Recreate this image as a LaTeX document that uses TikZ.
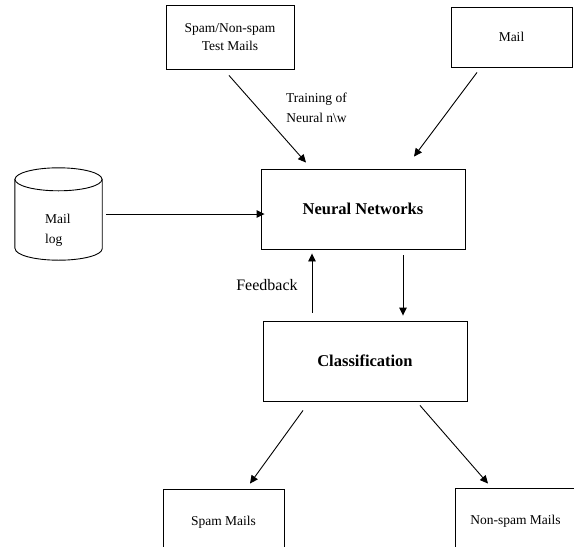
\documentclass[tikz,border=0pt]{standalone}
\usepackage{fontspec}
\setmainfont{Liberation Serif}
\usetikzlibrary{arrows.meta,calc}

\tikzset{
  box/.style={draw, line width=0.9pt, rectangle, inner sep=0pt, align=center,
              font=\fontsize{13.5}{18}\selectfont},
  bigbox/.style={box, font=\fontsize{16.5}{20}\selectfont\bfseries},
  arr/.style={line width=0.9pt, -{Triangle[length=8pt,width=7.5pt]}},
  lbl/.style={inner sep=0pt, align=center, font=\fontsize{13.5}{20}\selectfont}
}

\begin{document}
\begin{tikzpicture}[x=1pt, y=-1pt]
  \useasboundingbox (0,0) rectangle (574,547);
  \clip (0,0) rectangle (574,547);
  \fill[white] (0,0) rectangle (574,547);

  % input boxes
  \node[box, minimum width=128pt, minimum height=64pt] (tm) at (230,37) {Spam/Non-spam\\Test Mails};
  \node[box, minimum width=121pt, minimum height=60pt] (mail) at (511.5,37) {Mail};

  % processing boxes
  \node[bigbox, minimum width=204pt, minimum height=80pt] (nn) at (363,209) {Neural Networks};
  \node[bigbox, minimum width=204pt, minimum height=80pt] (cls) at (365,361) {Classification};

  % output boxes (run off the lower edge)
  \node[box, minimum width=121pt, minimum height=66pt] (spam) at (223.5,522) {Spam Mails};
  \node[box, minimum width=121pt, minimum height=66pt] (ns) at (515.5,521) {Non-spam Mails};

  % mail log store drawn as a cylinder
  \node[minimum width=87pt, minimum height=92pt, inner sep=0pt] (log) at (58.5,214) {};
  \draw[line width=0.9pt, fill=white]
    ($(log.south west)+(0,-11.5)$) -- ($(log.north west)+(0,11.5)$)
    -- ($(log.north east)+(0,11.5)$) -- ($(log.south east)+(0,-11.5)$)
    arc[start angle=360, end angle=180, x radius=43.5pt, y radius=11.5pt];
  \draw[line width=0.9pt, fill=white] ($(log.north)+(0,11.5)$) ellipse[x radius=43.5pt, y radius=11.5pt];
  \node[lbl, align=left, anchor=west] (logtxt) at (45,230) {Mail\\log};

  % connectors
  \draw[arr] ($(tm.south)+(-1,6)$) -- ($(nn.north)+(-57,-6)$);
  \draw[arr] ($(mail.south)+(-34.5,5)$) -- ($(nn.north)+(51,-12)$);
  \draw[arr] ([xshift=4pt]log.east) -- ([xshift=4pt]log.east -| nn.west);
  \draw[arr] ($(cls.north)+(-53,-8)$) -- ($(nn.south)+(-51,4)$);
  \draw[arr] ($(nn.south)+(40,6)$) -- ($(cls.north)+(38,-5)$);
  \draw[arr] ($(cls.south)+(-62,9)$) -- ($(spam.north)+(26.5,-5)$);
  \draw[arr] ($(cls.south)+(55,4)$) -- ($(ns.north)+(-27.5,-4)$);

  % connector labels
  \node[lbl] (train) at (316.5,108) {Training of\\Neural n\textbackslash w};
  \node[lbl, font=\fontsize{16}{20}\selectfont] (fb) at (267,285) {Feedback};
\end{tikzpicture}
\end{document}
